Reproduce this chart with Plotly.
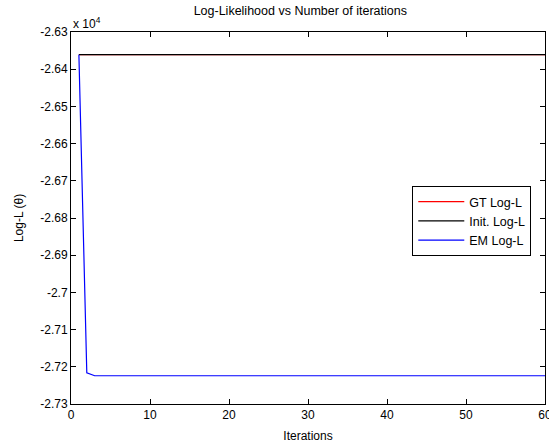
import plotly.graph_objects as go

# Data (log-likelihood values)
iterations = list(range(1, 61))
init_value = -26361.0
gt_loglik = [init_value] * len(iterations)
init_loglik = [init_value] * len(iterations)
em_loglik = [-26361.0, -27216.0] + [-27224.0] * (len(iterations) - 2)

scale = 1e4
y_tick_vals = [-2.63, -2.64, -2.65, -2.66, -2.67, -2.68, -2.69, -2.70, -2.71, -2.72, -2.73]
y_tick_text = ["-2.63", "-2.64", "-2.65", "-2.66", "-2.67", "-2.68", "-2.69", "-2.7", "-2.71", "-2.72", "-2.73"]
x_tick_vals = [0, 10, 20, 30, 40, 50, 60]

fam = "Liberation Sans, Arial, sans-serif"
font = dict(family=fam, size=12, color="black")

fig = go.Figure()
fig.add_trace(go.Scatter(x=iterations, y=[v / scale for v in gt_loglik], mode="lines",
                         name="GT Log-L", line=dict(color="#ff0000", width=1.2)))
fig.add_trace(go.Scatter(x=iterations, y=[v / scale for v in init_loglik], mode="lines",
                         name="Init. Log-L", line=dict(color="#000000", width=1.3)))
fig.add_trace(go.Scatter(x=iterations, y=[v / scale for v in em_loglik], mode="lines",
                         name="EM Log-L", line=dict(color="#0000ff", width=1.2)))

axis_common = dict(showline=True, linecolor="black", linewidth=1, mirror="ticks",
                   ticks="inside", ticklen=5, tickcolor="black", showgrid=False,
                   zeroline=False, tickfont=font, automargin=False,
                   ticklabeloverflow="allow")

fig.update_layout(
    width=549, height=445,
    margin=dict(l=71, r=4, t=32, b=41),
    paper_bgcolor="white", plot_bgcolor="white",
    font=font,
    title=dict(text="Log-Likelihood vs Number of iterations", x=0.547, xanchor="center",
               y=0.985, yanchor="top", font=dict(family=fam, size=12.5, color="black")),
    xaxis=dict(range=[0, 60], tickvals=x_tick_vals,
               title=dict(text="Iterations", standoff=10, font=font),
               **axis_common),
    yaxis=dict(range=[-2.73, -2.63], tickvals=y_tick_vals, ticktext=y_tick_text,
               title=dict(text="Log-L (θ)", standoff=14, font=font), **axis_common),
    legend=dict(x=0.72, y=0.586, xanchor="left", yanchor="top", bgcolor="white",
                bordercolor="black", borderwidth=1, font=dict(family=fam, size=12.5, color="black"),
                tracegroupgap=0, itemwidth=46),
    showlegend=True,
)

fig.add_annotation(text="x 10<sup>4</sup>", xref="paper", yref="paper", x=0, y=1.0,
                   xanchor="left", yanchor="bottom", showarrow=False, font=font, yshift=-1)

fig.write_html("out.html", config={"displayModeBar": False},
               post_script="document.body.style.margin='0';document.body.style.overflow='hidden';")
